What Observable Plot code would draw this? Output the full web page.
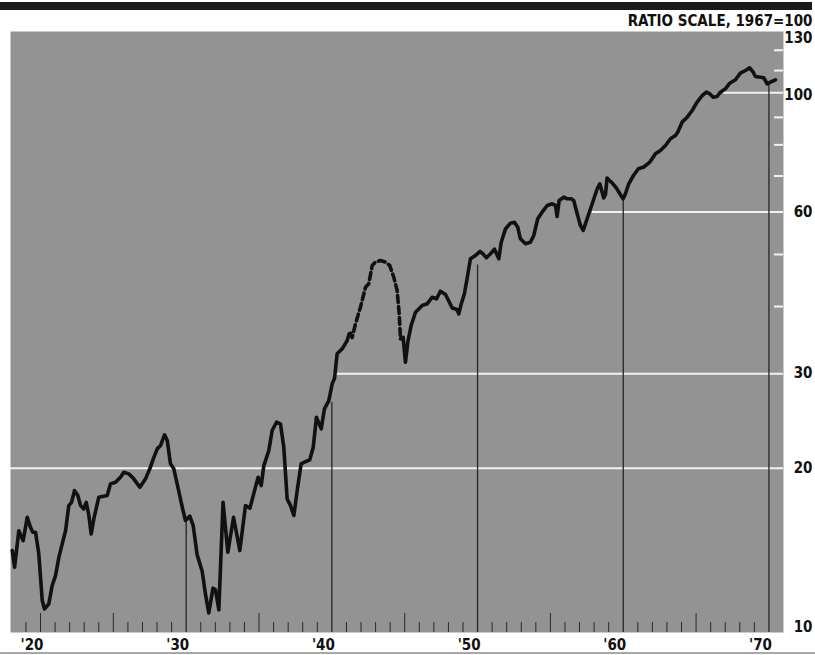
<!DOCTYPE html>
<html><head><meta charset="utf-8">
<script src="https://cdn.jsdelivr.net/npm/d3@7"></script>
<script src="https://cdn.jsdelivr.net/npm/@observablehq/plot@0.6"></script>
<style>
body{margin:0;background:#fff;}
#wrap{position:relative;width:815px;height:655px;overflow:hidden;}
#wrap svg{position:absolute;left:0;top:0;}
#bar{position:absolute;left:0;top:2px;width:812px;height:8px;background:#1a1a1a;z-index:2;}
#foot{position:absolute;left:0;top:652px;width:815px;height:2px;background:#a8a8a8;z-index:2;}
</style></head><body><div id="wrap"><div id="bar"></div><div id="foot"></div></div>
<script>
const years = [
1918.06,1918.22,1918.51,1918.81,1919.09,1919.31,1919.47,1919.66,1919.88,1920.12,
1920.27,1920.57,1920.80,1921.03,1921.26,1921.49,1921.72,1921.94,1922.13,1922.33,
1922.56,1922.75,1922.97,1923.14,1923.32,1923.48,1923.66,1924.00,1924.58,1924.80,
1925.15,1925.49,1925.72,1926.06,1926.40,1926.82,1927.21,1927.50,1927.78,1928.01,
1928.24,1928.51,1928.70,1928.92,1929.15,1929.38,1929.73,1929.95,1930.25,1930.48,
1930.75,1931.10,1931.32,1931.55,1931.84,1932.01,1932.24,1932.53,1932.86,1933.25,
1933.68,1934.07,1934.38,1934.69,1934.94,1935.15,1935.33,1935.67,1935.90,1936.20,
1936.47,1936.70,1936.93,1937.16,1937.39,1937.62,1937.89,1938.26,1938.48,1938.72,
1938.94,1939.27,1939.49,1939.79,1940.02,1940.18,1940.36,1940.71,1941.05,1941.23,
1941.39,1941.62,1941.96,1942.31,1942.53,1942.77,1942.99,1943.34,1943.68,1943.97,
1944.25,1944.48,1944.62,1944.71,1944.89,1945.05,1945.21,1945.44,1945.74,1946.20,
1946.54,1946.88,1947.18,1947.45,1947.80,1948.26,1948.59,1948.71,1948.87,1949.10,
1949.29,1949.51,1949.86,1950.17,1950.41,1950.61,1950.89,1951.16,1951.46,1951.62,
1951.92,1952.26,1952.53,1952.76,1952.94,1953.29,1953.63,1953.86,1954.13,1954.43,
1954.78,1955.12,1955.35,1955.46,1955.60,1955.92,1956.15,1956.42,1956.60,1956.84,
1957.06,1957.25,1957.52,1957.87,1958.21,1958.39,1958.55,1958.66,1958.78,1958.89,
1959.19,1959.53,1959.88,1959.99,1960.15,1960.38,1960.70,1961.04,1961.41,1961.82,
1962.21,1962.55,1962.90,1963.24,1963.58,1963.74,1964.04,1964.39,1964.73,1965.07,
1965.42,1965.71,1965.94,1966.17,1966.44,1966.67,1967.01,1967.31,1967.70,1968.04,
1968.39,1968.68,1968.92,1969.07,1969.42,1969.64,1969.88,1970.10,1970.45];
const values = [
14.05,13.08,15.30,14.66,16.21,15.53,15.20,15.20,13.87,11.34,
10.94,11.18,12.09,12.62,13.65,14.46,15.30,17.04,17.28,18.17,
17.79,17.04,16.80,17.28,16.33,15.09,16.10,17.66,17.79,18.70,
18.83,19.24,19.66,19.52,19.11,18.43,19.11,19.95,20.96,21.73,
22.04,23.08,22.52,20.38,19.95,18.70,16.92,15.98,16.29,15.64,
13.81,12.84,11.67,10.75,11.96,11.88,10.90,17.28,13.95,16.21,
14.05,17.04,16.86,18.17,19.24,18.57,20.23,21.57,23.51,24.36,
24.19,21.88,17.54,17.04,16.33,18.17,20.38,20.61,20.73,21.88,
24.88,23.68,25.80,26.73,28.72,29.38,32.66,33.37,34.57,35.93,
35.02,37.14,39.88,43.45,44.09,47.70,48.38,48.73,48.38,47.70,
45.35,42.84,38.77,34.82,35.06,31.50,34.32,36.87,39.04,40.18,
40.47,41.63,41.35,42.71,42.11,39.75,39.49,38.77,40.35,42.29,
45.20,49.09,49.79,50.65,50.00,49.30,50.15,51.15,49.09,52.64,
55.82,57.18,57.42,56.21,53.48,52.35,52.71,54.25,58.27,59.94,
61.69,62.14,61.69,58.85,63.02,63.92,63.49,63.49,63.02,59.53,
56.62,55.42,58.27,62.14,66.27,67.70,65.31,63.70,64.67,69.41,
68.17,66.49,64.12,63.49,64.86,67.70,70.15,72.20,72.76,74.27,
76.99,78.09,79.78,82.11,83.28,84.47,88.17,90.07,92.70,96.06,
98.85,100.26,99.57,98.13,98.43,100.26,101.73,104.20,105.73,108.77,
110.03,111.31,109.23,107.24,106.92,106.65,103.94,104.65,105.73];
const dashedFrom = 1941.05, dashedTo = 1944.71;
const decades = [1930, 1940, 1950, 1960, 1970];
const decadeRuleTop = [16.0, 26.5, 47.8, 63.5, 103.9];
const labelYears = [1920, 1930, 1940, 1950, 1960, 1970];
const gridValues = [20, 30, 60, 100];
const gridStart = [1917.94, 1940.1, 1957.87, 1966.88];
const minorTickValues = [40, 50, 70, 80, 90, 110, 120];
const yLabels = [10, 20, 30, 60, 100, 130];
const headerText = "RATIO SCALE, 1967=100";

const xDomain = [1917.94, 1971.0];
const yDomain = [9.89, 130.05];

const pts = years.map((t, i) => ({t, v: values[i]}));
const seg1 = pts.filter(d => d.t <= dashedFrom);
const segD = pts.filter(d => d.t >= dashedFrom && d.t <= dashedTo);
const seg2 = pts.filter(d => d.t >= dashedTo);
const decadeRules = decades.map((t, i) => ({t, top: decadeRuleTop[i]}));
const grids = gridValues.map((v, i) => ({v, x1: gridStart[i]}));
const allYears = d3.range(1919, 1971).filter(y => y % 5 !== 0);
const fiveYears = [1920, 1925, 1935, 1945, 1955, 1965];

const FONT = "'DejaVu Sans Condensed','Liberation Sans Narrow','DejaVu Sans',sans-serif";
const txt = {fontFamily: FONT, fontWeight: "bold", fontSize: 15, fill: "#111", lineAnchor: "middle"};

const chart = Plot.plot({
  width: 815, height: 655,
  marginLeft: 10, marginRight: 32, marginTop: 31, marginBottom: 23,
  x: {domain: xDomain, axis: null},
  y: {type: "log", domain: yDomain, axis: null},
  style: {background: "transparent", overflow: "visible"},
  marks: [
    Plot.frame({fill: "#939393", stroke: null}),
    Plot.ruleY(grids, {y: "v", x1: "x1", x2: xDomain[1], stroke: "#f2f2f2", strokeWidth: 2}),
    Plot.ruleY(minorTickValues, {y: d => d, insetLeft: 764, stroke: "#f2f2f2", strokeWidth: 2}),
    Plot.ruleX(allYears, {x: d => d, insetTop: 591, stroke: "#2a2a2a", strokeWidth: 1}),
    Plot.ruleX(fiveYears, {x: d => d, insetTop: 582, stroke: "#2a2a2a", strokeWidth: 1}),
    Plot.ruleX(decadeRules, {x: "t", y1: yDomain[0], y2: "top", stroke: "#262626", strokeWidth: 1.3}),
    Plot.line(seg1, {x: "t", y: "v", stroke: "#111", strokeWidth: 3.6, strokeLinejoin: "round", strokeLinecap: "round"}),
    Plot.line(segD, {x: "t", y: "v", stroke: "#111", strokeWidth: 3.6, strokeDasharray: "7,4", strokeLinejoin: "round"}),
    Plot.line(seg2, {x: "t", y: "v", stroke: "#111", strokeWidth: 3.6, strokeLinejoin: "round", strokeLinecap: "round"}),
    Plot.text(labelYears, {x: d => d, frameAnchor: "bottom", dy: 13, dx: 3, textAnchor: "end", text: d => "'" + String(d).slice(2), ...txt}),
    Plot.text(yLabels.filter(v => v !== 10 && v !== 100 && v !== 130), {y: d => d, frameAnchor: "right", dx: 29, textAnchor: "end", text: d => String(d), ...txt}),
    Plot.text([100], {y: d => d, frameAnchor: "right", dx: 29, dy: 2, textAnchor: "end", text: d => String(d), ...txt}),
    Plot.text([130], {y: d => d, frameAnchor: "right", dx: 29, dy: 7, textAnchor: "end", text: d => String(d), ...txt}),
    Plot.text([10], {y: d => d, frameAnchor: "right", dx: 29, dy: -3, textAnchor: "end", text: d => String(d), ...txt}),
    Plot.text([headerText], {frameAnchor: "top-right", dx: 29, dy: -10, textAnchor: "end", text: d => d, ...txt, letterSpacing: "-0.4px"})
  ]
});
document.getElementById("wrap").appendChild(chart);
</script></body></html>
